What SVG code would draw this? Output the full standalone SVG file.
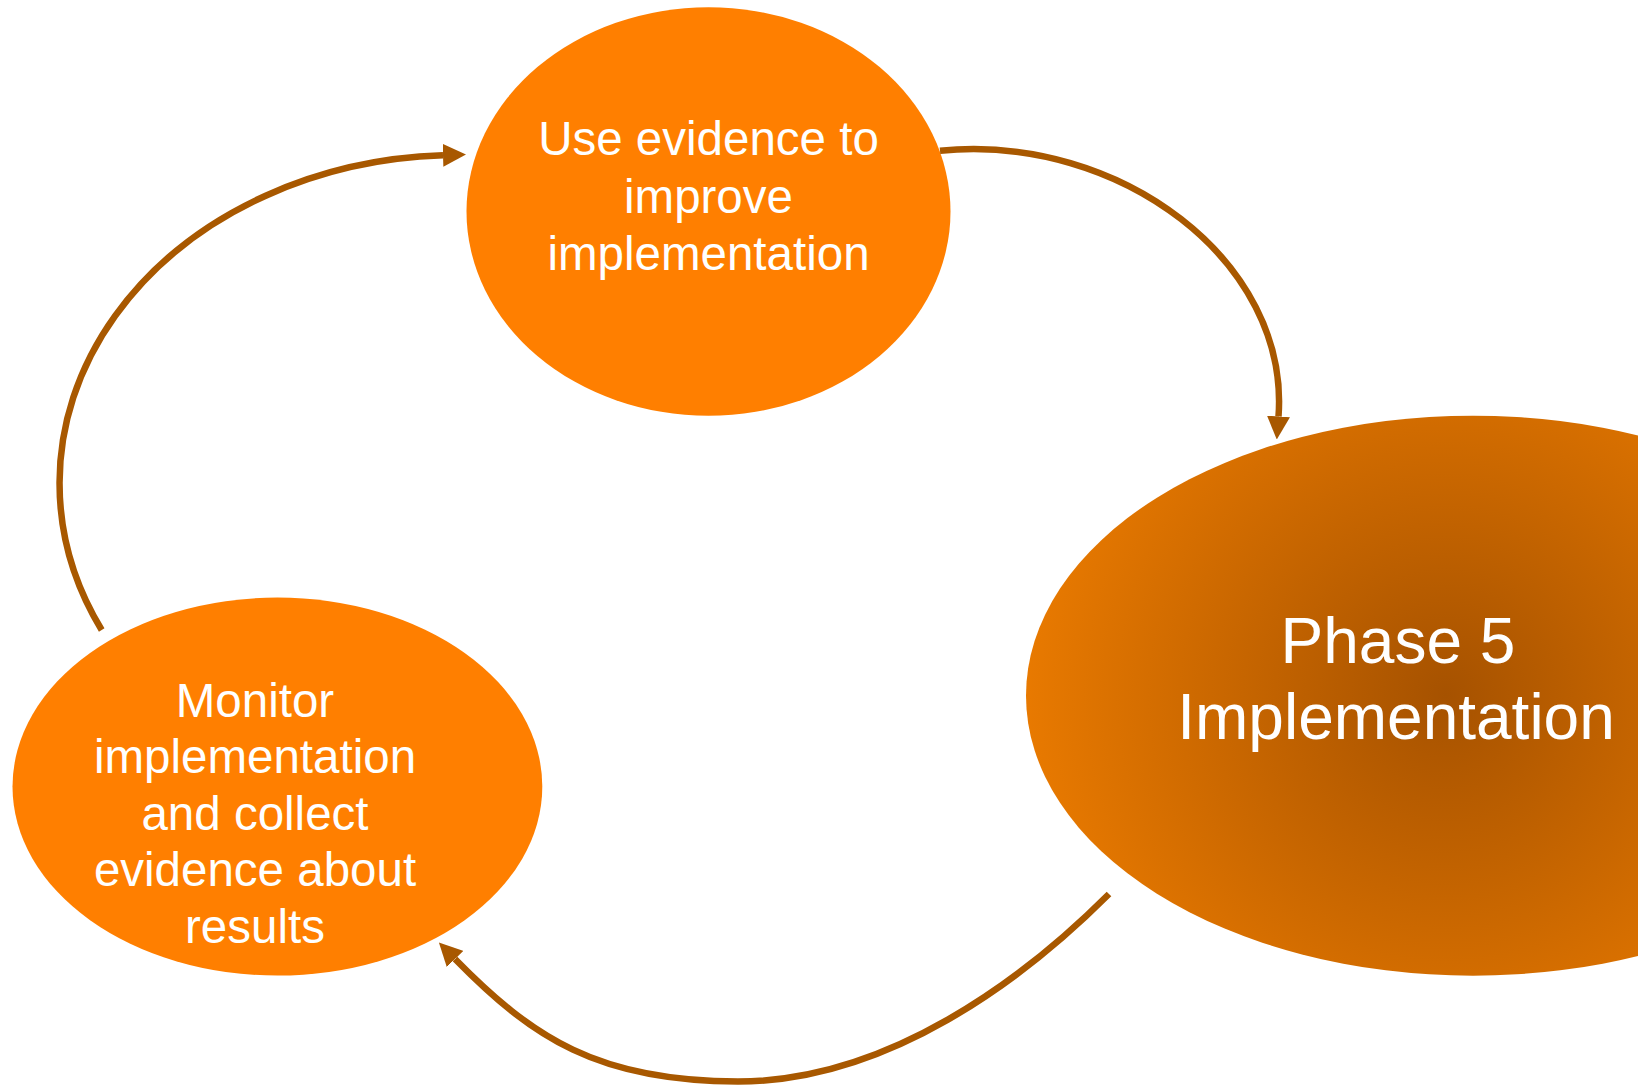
<svg xmlns="http://www.w3.org/2000/svg" width="1638" height="1088" viewBox="0 0 1638 1088">
  <style>
    .node { fill: #ff7f00; }
    .lbl { font-family: "Liberation Sans", Arial, sans-serif; font-size: 47.5px; fill: #ffffff; text-anchor: middle; }
    .big { font-family: "Liberation Sans", Arial, sans-serif; font-size: 64px; fill: #ffffff; text-anchor: middle; }
    .conn { fill: none; stroke: #a85800; stroke-width: 6.5; }
  </style>
  <defs>
    <radialGradient id="phaseGrad" gradientUnits="userSpaceOnUse" cx="1446" cy="695" r="470">
      <stop offset="0" stop-color="#a65200"/>
      <stop offset="1" stop-color="#f07e00"/>
    </radialGradient>
    <marker id="arrow" viewBox="0 0 23 23" refX="0" refY="11.5" markerWidth="23" markerHeight="23" markerUnits="userSpaceOnUse" orient="auto">
      <path d="M0,0 L23,11.5 L0,23 z" fill="#a85800"/>
    </marker>
  </defs>
  <rect width="1638" height="1088" fill="#ffffff"/>

  <g id="node-use-evidence">
    <ellipse class="node" cx="708.5" cy="211.5" rx="242" ry="204.3"/>
    <text class="lbl" x="708.5" y="155">Use evidence to</text>
    <text class="lbl" x="708.5" y="212.7">improve</text>
    <text class="lbl" x="708.5" y="270">implementation</text>
  </g>

  <g id="node-monitor">
    <ellipse class="node" cx="277.4" cy="786.6" rx="264.9" ry="189"/>
    <text class="lbl" x="255" y="716.5">Monitor</text>
    <text class="lbl" x="255" y="773">implementation</text>
    <text class="lbl" x="255" y="829.5">and collect</text>
    <text class="lbl" x="255" y="886">evidence about</text>
    <text class="lbl" x="255" y="943">results</text>
  </g>

  <g id="node-phase5">
    <ellipse cx="1473" cy="695.7" rx="447" ry="280" fill="url(#phaseGrad)"/>
    <text class="big" x="1398" y="663">Phase 5</text>
    <text class="big" x="1396" y="738.5">Implementation</text>
  </g>

  <g id="connectors">
    <path class="conn" d="M101.7,630 A398,328 0 0 1 443,155.3" marker-end="url(#arrow)"/>
    <path class="conn" d="M940,150.7 C1120,133 1290,262 1278.5,416.5" marker-end="url(#arrow)"/>
    <path class="conn" d="M1109,894 C1024,979 888,1081.5 738,1081.5 C598,1081.5 532,1037.5 455,959" marker-end="url(#arrow)"/>
  </g>
</svg>
